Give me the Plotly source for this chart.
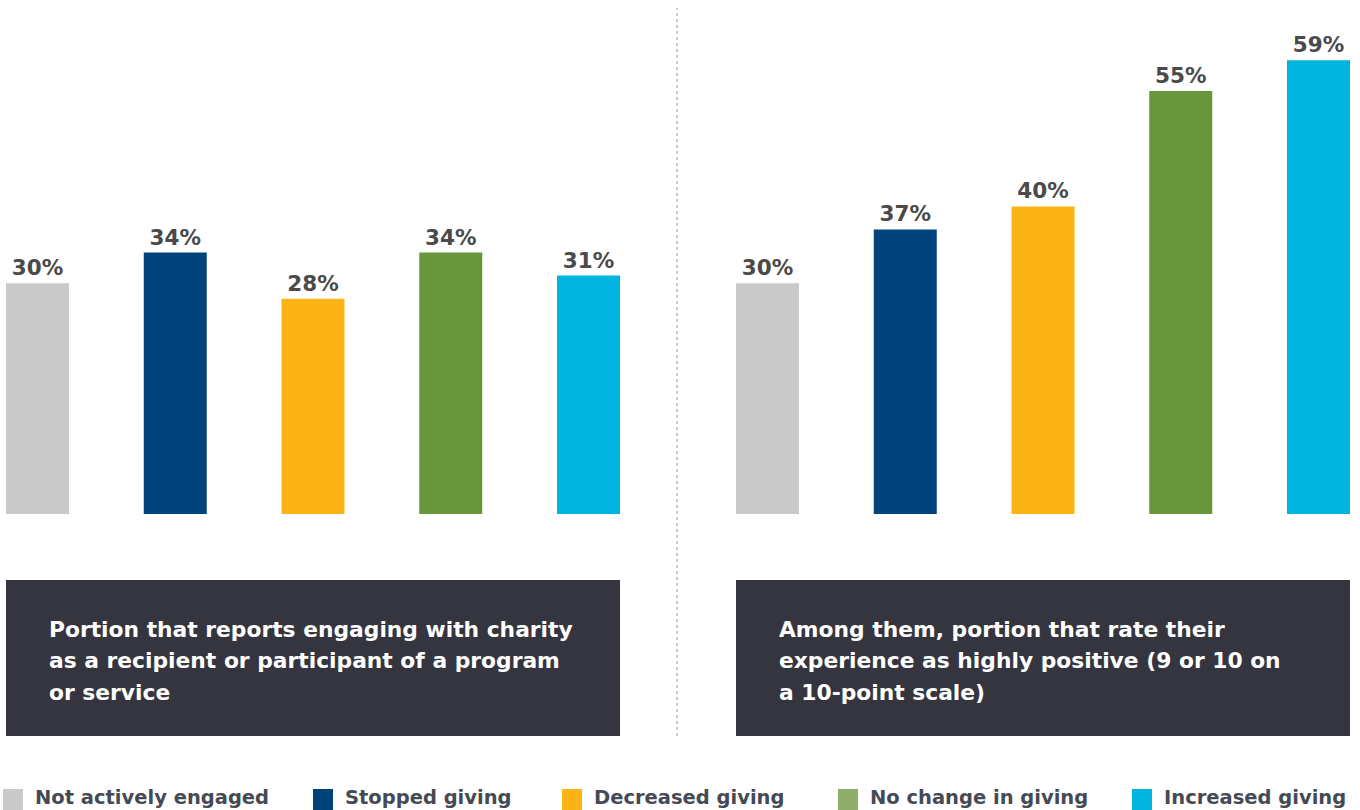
import plotly.graph_objects as go

# Giving-behaviour groups and their colours
categories = ["Not actively engaged", "Stopped giving", "Decreased giving",
              "No change in giving", "Increased giving"]
bar_colors = ["#c8c9c8", "#00427a", "#fbb316", "#67963b", "#00b4e0"]
legend_colors = ["#c8c9c8", "#00427a", "#fbb316", "#8daf6a", "#00b4e0"]

# Share (%) engaging with charity as a recipient / participant
engaged_pct = [30, 34, 28, 34, 31]
# Among them, share rating the experience 9 or 10 out of 10
positive_pct = [30, 37, 40, 55, 59]

panel_captions = [
    ["Portion that reports engaging with charity",
     "as a recipient or participant of a program",
     "or service"],
    ["Among them, portion that rate their",
     "experience as highly positive (9 or 10 on",
     "a 10-point scale)"],
]

W, H = 1360, 810
STEP = 137.75          # px between bar centres
BAR_W = 63 / STEP      # bar width in axis units
BASE_Y = 514           # px of the zero line
PX_PER_PCT = 7.69

LABEL_COLOR = "#4a4a4a"
TEXT_DARK = "#454a55"
BOX_COLOR = "#353540"
FONT = "DejaVu Sans"


def px(x):
    return x / W


def py(y):
    return 1 - y / H


fig = go.Figure()

idx = list(range(len(categories)))
for vals, xa in [(engaged_pct, "x"), (positive_pct, "x2")]:
    fig.add_trace(go.Bar(
        x=idx, y=vals, width=BAR_W,
        marker=dict(color=bar_colors, line=dict(width=0)),
        text=[f"{v}%" for v in vals],
        texttemplate="%{text}",
        textposition="outside",
        textfont=dict(family=FONT, size=21.5, color=LABEL_COLOR, weight="bold"),
        cliponaxis=False,
        xaxis=xa, yaxis="y",
        hovertext=categories, hoverinfo="text+y",
        showlegend=False,
    ))

first_centre = [37.5, 767.5]
half = W / 2
fig.update_layout(
    width=W, height=H,
    margin=dict(l=0, r=0, t=0, b=0),
    paper_bgcolor="white", plot_bgcolor="white",
    font=dict(family=FONT),
    xaxis=dict(domain=[0, 0.5], visible=False,
               range=[(0 - first_centre[0]) / STEP, (half - first_centre[0]) / STEP]),
    xaxis2=dict(domain=[0.5, 1], visible=False,
                range=[(half - first_centre[1]) / STEP, (W - first_centre[1]) / STEP]),
    yaxis=dict(domain=[py(BASE_Y), 1], visible=False,
               range=[0, BASE_Y / PX_PER_PCT]),
)

shapes = []
annotations = []

# Caption boxes beneath each panel
for box_x0, lines in zip([6, 736], panel_captions):
    shapes.append(dict(type="rect", xref="paper", yref="paper",
                       x0=px(box_x0), x1=px(box_x0 + 614),
                       y0=py(736), y1=py(580),
                       fillcolor=BOX_COLOR, line=dict(width=0), layer="below"))
    for i, line in enumerate(lines):
        annotations.append(dict(
            xref="paper", yref="paper", x=px(box_x0 + 41), y=py(629 + 31.5 * i),
            xanchor="left", yanchor="middle", showarrow=False, text=line,
            font=dict(family=FONT, size=21.8, color="white", weight="bold")))

# Dotted divider between the panels
shapes.append(dict(type="line", xref="paper", yref="paper",
                   x0=px(677), x1=px(677), y0=py(736), y1=py(8),
                   line=dict(color="#9a9a9a", width=1, dash="dot")))

# Legend row
legend_x = [3, 313, 562, 838, 1132]
for lx, col, name in zip(legend_x, legend_colors, categories):
    shapes.append(dict(type="rect", xref="paper", yref="paper",
                       x0=px(lx), x1=px(lx + 20), y0=py(810), y1=py(789),
                       fillcolor=col, line=dict(width=0)))
    annotations.append(dict(
        xref="paper", yref="paper", x=px(lx + 30), y=py(797),
        xanchor="left", yanchor="middle", showarrow=False, text=name,
        font=dict(family=FONT, size=19.5, color=TEXT_DARK, weight="bold")))

fig.update_layout(shapes=shapes, annotations=annotations)

fig.write_html("out.html")
